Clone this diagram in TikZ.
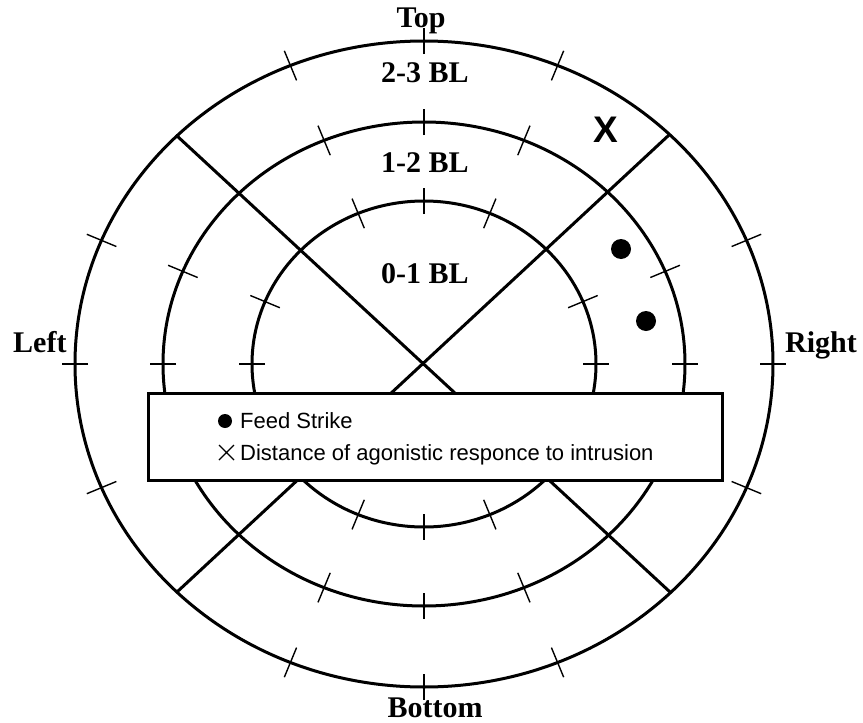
\documentclass[tikz,border=0pt]{standalone}
\usepackage{fontspec}
\setmainfont{Liberation Serif}
\newfontfamily\legendfont{Liberation Sans}
\begin{document}
\begin{tikzpicture}[x=1pt,y=-1pt,
  ring/.style={line width=3pt},
  tickmark/.style={line width=1.4pt},
  diag/.style={line width=3pt},
  lbl/.style={font=\fontsize{30}{30}\selectfont\bfseries, anchor=base, inner sep=0pt},
  sidelbl/.style={font=\fontsize{30}{30}\selectfont\bfseries, anchor=base west, inner sep=0pt},
  leg/.style={font=\legendfont\fontsize{22}{22}\selectfont, anchor=base west, inner sep=0pt},
  dot/.style={fill=black}]
\useasboundingbox (0,0) rectangle (863,723);
\fill[white] (0,0) rectangle (863,723);
\coordinate (c) at (424,364);
% rings
\draw[ring] (c) ellipse [x radius=349pt, y radius=323pt];
\draw[ring] (c) ellipse [x radius=261pt, y radius=242pt];
\draw[ring] (c) ellipse [x radius=172pt, y radius=163pt];
% ticks (cardinal)
\foreach \r/\s in {349/323, 261/242, 172/163} {
  \foreach \a in {0,90,180,270} {
    \draw[tickmark] ({424+(\r-13)*cos(\a)},{364-(\s-13)*sin(\a)}) -- ({424+(\r+13)*cos(\a)},{364-(\s+13)*sin(\a)});
  }
  \foreach \a in {22.5,67.5,112.5,157.5,202.5,247.5,292.5,337.5} {
    \draw[tickmark] ({424+(\r-16)*cos(\a)},{364-(\s-16)*sin(\a)}) -- ({424+(\r+16)*cos(\a)},{364-(\s+16)*sin(\a)});
  }
}
% diagonals
\coordinate (ul) at (176,135);
\coordinate (ur) at (669,135);
\coordinate (ll) at (177,592);
\coordinate (lr) at (670,592);
\draw[diag] (ul) -- (lr);
\draw[diag] (ur) -- (ll);
% observations
\fill[dot] (621,249) circle (10pt);
\fill[dot] (646,321) circle (10pt);
\node[font=\legendfont\bfseries\fontsize{37}{37}\selectfont, inner sep=0pt, anchor=base] (xm) at (606,142) {X};
% legend box
\draw[line width=3pt, fill=white] (148,393) rectangle (722,480);
\fill (225,421) circle (7pt);
\draw[line width=1.2pt] (219,445) -- (234,460) (219,460) -- (234,445);
\node[leg] (fs) at (240,428) {Feed Strike};
\node[leg] (dist) at (240,460) {Distance of agonistic responce to intrusion};
% labels
\node[lbl] (top) at (421,27) {Top};
\node[lbl] (b23) at (425,82) {2-3 BL};
\node[lbl] (b12) at (425,172) {1-2 BL};
\node[lbl] (b01) at (425,283) {0-1 BL};
\node[sidelbl] (left) at (13,352) {Left};
\node[sidelbl] (right) at (785,352) {Right};
\node[lbl] (bottom) at (435,717) {Bottom};
\end{tikzpicture}
\end{document}
